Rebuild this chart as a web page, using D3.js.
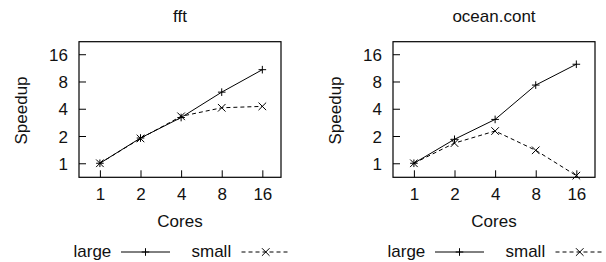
<!DOCTYPE html>
<html>
<head>
<meta charset="utf-8">
<script src="https://cdnjs.cloudflare.com/ajax/libs/d3/7.8.5/d3.min.js"></script>
<style>
  body { margin: 0; background: #fff; }
  text { font-family: "Liberation Sans", Arial, sans-serif; font-size: 17px; fill: #111; }
</style>
</head>
<body>
<svg id="chart"></svg>
<script>
// values
const cores = [1, 2, 4, 8, 16];
const speedupTicks = [1, 2, 4, 8, 16];
const panelTitles = ["fft", "ocean.cont"];
const fftLarge = [1, 1.9, 3.2, 6.1, 10.8];
const fftSmall = [1, 1.88, 3.3, 4.1, 4.25];
const oceanLarge = [1, 1.84, 3.05, 7.3, 12.4];
const oceanSmall = [1, 1.67, 2.27, 1.39, 0.73];
const seriesNames = ["large", "small"];

const panels = [
    { title: panelTitles[0], large: fftLarge, small: fftSmall },
    { title: panelTitles[1], large: oceanLarge, small: oceanSmall }
];

const W = 606, H = 262;
const svg = d3.select("#chart").attr("width", W).attr("height", H);

const frame = { left: 79, right: 281, top: 41.7, bottom: 177.3 };
const panelShift = 314;

const x = d3.scaleLog().base(2).domain([0.7, 22]).range([frame.left, frame.right]);
const y = d3.scaleLog().base(2).domain([0.7, 22]).range([frame.bottom, frame.top]);

const styles = {
    large: { dash: null, marker: "plus" },
    small: { dash: "4,3", marker: "cross" }
};

function drawMarker(g, type, cx, cy) {
    const s = 3.8;
    let p = type === "plus"
        ? `M${cx - s},${cy}H${cx + s}M${cx},${cy - s}V${cy + s}`
        : `M${cx - s},${cy - s}L${cx + s},${cy + s}M${cx - s},${cy + s}L${cx + s},${cy - s}`;
    g.append("path").attr("d", p).attr("stroke", "#000").attr("stroke-width", 1).attr("fill", "none");
}

panels.forEach((panel, i) => {
    const g = svg.append("g").attr("transform", "translate(" + (i * panelShift) + ",0)");

    // title
    g.append("text")
        .attr("x", (frame.left + frame.right) / 2)
        .attr("y", 21.7)
        .attr("text-anchor", "middle")
        .text(panel.title);

    // frame
    g.append("rect")
        .attr("x", frame.left).attr("y", frame.top)
        .attr("width", frame.right - frame.left)
        .attr("height", frame.bottom - frame.top)
        .attr("fill", "none").attr("stroke", "#000").attr("stroke-width", 1.2);

    // x axis, ticks pointing inward
    const xAxis = g.append("g")
        .attr("transform", "translate(0," + frame.bottom + ")")
        .call(d3.axisBottom(x).tickValues(cores).tickFormat(d3.format("d")).tickSizeInner(-7).tickSizeOuter(0).tickPadding(15));
    xAxis.select(".domain").remove();
    xAxis.selectAll("text").attr("fill", null).attr("dy", null).attr("y", 22.3);

    // y axis
    const yAxis = g.append("g")
        .attr("transform", "translate(" + frame.left + ",0)")
        .call(d3.axisLeft(y).tickValues(speedupTicks).tickFormat(d3.format("d")).tickSizeInner(-7).tickSizeOuter(0).tickPadding(11));
    yAxis.select(".domain").remove();
    yAxis.selectAll("text").attr("fill", null).attr("x", -11).attr("dy", "0.36em");
    g.selectAll(".tick line").attr("stroke", "#000");
    g.selectAll(".tick text").style("font-size", "17px").style("font-family", "'Liberation Sans', Arial, sans-serif");

    // axis labels
    g.append("text")
        .attr("x", (frame.left + frame.right) / 2)
        .attr("y", 226.5)
        .attr("text-anchor", "middle")
        .text("Cores");
    g.append("text")
        .attr("transform", "translate(26.5," + ((frame.top + frame.bottom) / 2 + 1) + ") rotate(-90)")
        .attr("text-anchor", "middle")
        .text("Speedup");

    // series
    const line = d3.line()
        .x((d, j) => x(cores[j]))
        .y(d => y(d));

    seriesNames.forEach(name => {
        const vals = panel[name];
        const st = styles[name];
        g.append("path")
            .datum(vals)
            .attr("fill", "none")
            .attr("stroke", "#000")
            .attr("stroke-width", 1)
            .attr("stroke-dasharray", st.dash)
            .attr("d", line);
        vals.forEach((v, j) => drawMarker(g, st.marker, x(cores[j]), y(v)));
    });

    // legend
    const legY = 252;
    const legItems = [
        { name: "large", textX: 73.5, x1: 121, x2: 170 },
        { name: "small", textX: 191.5, x1: 241.5, x2: 290 }
    ];
    legItems.forEach(it => {
        const st = styles[it.name];
        g.append("text").attr("x", it.textX).attr("y", 256.5).text(it.name);
        g.append("line")
            .attr("x1", it.x1).attr("x2", it.x2)
            .attr("y1", legY).attr("y2", legY)
            .attr("stroke", "#000").attr("stroke-width", 1)
            .attr("stroke-dasharray", st.dash);
        drawMarker(g, st.marker, (it.x1 + it.x2) / 2, legY);
    });
});
</script>
</body>
</html>
